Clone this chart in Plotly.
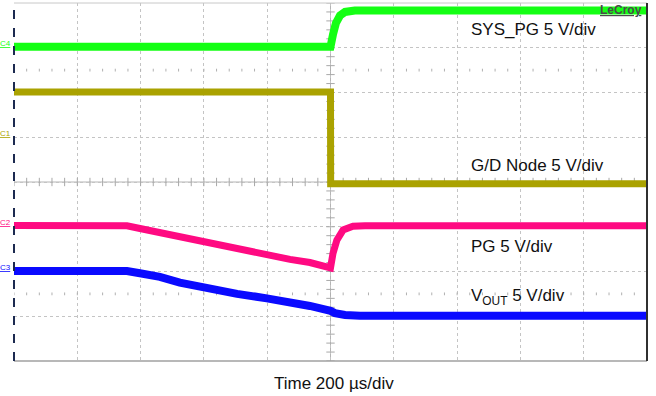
import plotly.graph_objects as go

# ---- data (time in µs, amplitude in divisions) ----
sys_pg_t = [-1000, 0, 8, 17, 30, 46, 77, 1000]
sys_pg_v = [3.02, 3.02, 3.30, 3.55, 3.72, 3.80, 3.83, 3.83]

gd_t = [-1000, 0, 0.5, 1000]
gd_v = [2.01, 2.01, -0.04, -0.04]

pg_t = [-1000, -665, -643, -602, -539, -476, -412, -349, -295, -201, -128, -65, -8, 0,
        8, 20, 40, 71, 109, 1000]
pg_v = [-0.97, -0.97, -0.98, -1.04, -1.13, -1.25, -1.35, -1.41, -1.50, -1.65, -1.73, -1.80, -1.91, -1.92,
        -1.59, -1.30, -1.07, -0.99, -0.98, -0.98]

vout_t = [-1000, -643, -602, -539, -476, -412, -349, -295, -201, -128, -65, 0, 14, 46, 93, 1000]
vout_v = [-1.99, -1.99, -2.04, -2.12, -2.25, -2.35, -2.41, -2.50, -2.60, -2.68, -2.77, -2.88, -2.93,
          -2.97, -2.99, -2.99]

x_range = [-1000, 1000]
y_range = [-4, 4]
x_ticks = list(range(-1000, 1001, 200))
y_ticks = list(range(-4, 5))

GREEN = "#14ff14"
OLIVE = "#aaa200"
PINK = "#ff0a82"
BLUE = "#0a0aff"
GRID = "#c4c4c4"

fig = go.Figure()

# minor ticks on centre axes and ±2.5 div rows
minor_x = [x_range[0] + i * 40 for i in range(51)]
minor_y = [y_range[0] + i * 0.2 for i in range(41)]
fig.add_trace(go.Scatter(x=minor_x, y=[0] * len(minor_x), mode="markers",
                         marker=dict(symbol="line-ns", size=6, line=dict(color="#a8a8a8", width=1)),
                         hoverinfo="skip", showlegend=False))
fig.add_trace(go.Scatter(x=[0] * len(minor_y), y=minor_y, mode="markers",
                         marker=dict(symbol="line-ew", size=6, line=dict(color="#a8a8a8", width=1)),
                         hoverinfo="skip", showlegend=False))
for yy in (2.5, -2.5):
    fig.add_trace(go.Scatter(x=minor_x, y=[yy] * len(minor_x), mode="markers",
                             marker=dict(symbol="line-ns", size=2, line=dict(color="#b0b0b0", width=1)),
                             hoverinfo="skip", showlegend=False))

# traces
for t, v, c, w in [(gd_t, gd_v, OLIVE, 7), (sys_pg_t, sys_pg_v, GREEN, 8),
                   (pg_t, pg_v, PINK, 7), (vout_t, vout_v, BLUE, 8)]:
    fig.add_trace(go.Scatter(x=t, y=v, mode="lines", line=dict(color=c, width=w),
                             hoverinfo="skip", showlegend=False))

# trigger markers
fig.add_trace(go.Scatter(x=[40], y=[-4.08], mode="markers", cliponaxis=False,
                         marker=dict(symbol="triangle-up", size=8, color="#00e000"),
                         hoverinfo="skip", showlegend=False))
fig.add_trace(go.Scatter(x=[1008], y=[3.73], mode="markers", cliponaxis=False,
                         marker=dict(symbol="triangle-left", size=7, color="#00e000"),
                         hoverinfo="skip", showlegend=False))

# borders
fig.add_shape(type="line", xref="paper", yref="paper", x0=0, x1=1, y0=1, y1=1,
              line=dict(color="#c8c8c8", width=1))
fig.add_shape(type="line", xref="paper", yref="paper", x0=0, x1=1, y0=0, y1=0,
              line=dict(color="#a0a0a0", width=1.5))
fig.add_shape(type="line", xref="paper", yref="paper", x0=0, x1=0, y0=0, y1=1,
              line=dict(color="#1c2a50", width=2, dash="dash"))
fig.add_shape(type="line", xref="paper", yref="paper", x0=1, x1=1, y0=0, y1=1,
              line=dict(color="#303030", width=2))
fig.add_shape(type="line", x0=0, x1=0, y0=-4, y1=4, line=dict(color="#b4b4b4", width=1), layer="below")
fig.add_shape(type="line", x0=-1000, x1=1000, y0=0, y1=0, line=dict(color="#b4b4b4", width=1), layer="below")

FONT = "Arial, Liberation Sans, sans-serif"
labels = [("SYS_PG 5 V/div", 3.40), ("G/D Node 5 V/div", 0.38),
          ("PG 5 V/div", -1.45), ("V<sub>OUT</sub> 5 V/div", -2.57)]
for txt, yy in labels:
    fig.add_annotation(x=438, y=yy, text=txt, showarrow=False, xanchor="left", yanchor="middle",
                       font=dict(family=FONT, size=17, color="#111111"))

fig.add_annotation(x=0.505, y=-0.064, xref="paper", yref="paper", text="Time 200 µs/div",
                   showarrow=False, xanchor="center", yanchor="middle",
                   font=dict(family=FONT, size=17, color="#111111"))
fig.add_annotation(x=0.996, y=3.84, xref="paper", text="<u><b>LeCroy</b></u>", showarrow=False,
                   xanchor="right", yanchor="middle",
                   font=dict(family=FONT, size=12, color="#4a4a4a"))

# channel ground markers
for name, yy, c in [("C4", 3.02, GREEN), ("C1", 1.0, OLIVE), ("C2", -0.98, PINK), ("C3", -1.99, BLUE)]:
    fig.add_annotation(x=-0.002, y=yy, xref="paper", text="<u>" + name + "</u>", showarrow=False,
                       xanchor="right", yanchor="bottom", yshift=-3,
                       font=dict(family=FONT, size=8, color=c))

fig.update_xaxes(range=x_range, tickvals=x_ticks, showticklabels=False, showgrid=True,
                 gridcolor=GRID, griddash="dot", gridwidth=1, zeroline=False, showline=False,
                 fixedrange=True)
fig.update_yaxes(range=y_range, tickvals=y_ticks, showticklabels=False, showgrid=True,
                 gridcolor=GRID, griddash="dot", gridwidth=1, zeroline=False, showline=False,
                 fixedrange=True)
fig.update_layout(width=656, height=396, margin=dict(l=14, r=9, t=3, b=35),
                  plot_bgcolor="white", paper_bgcolor="white")

fig.write_html("out.html", config={"displayModeBar": False},
               post_script="document.body.style.margin='0px';document.body.style.overflow='hidden';")
